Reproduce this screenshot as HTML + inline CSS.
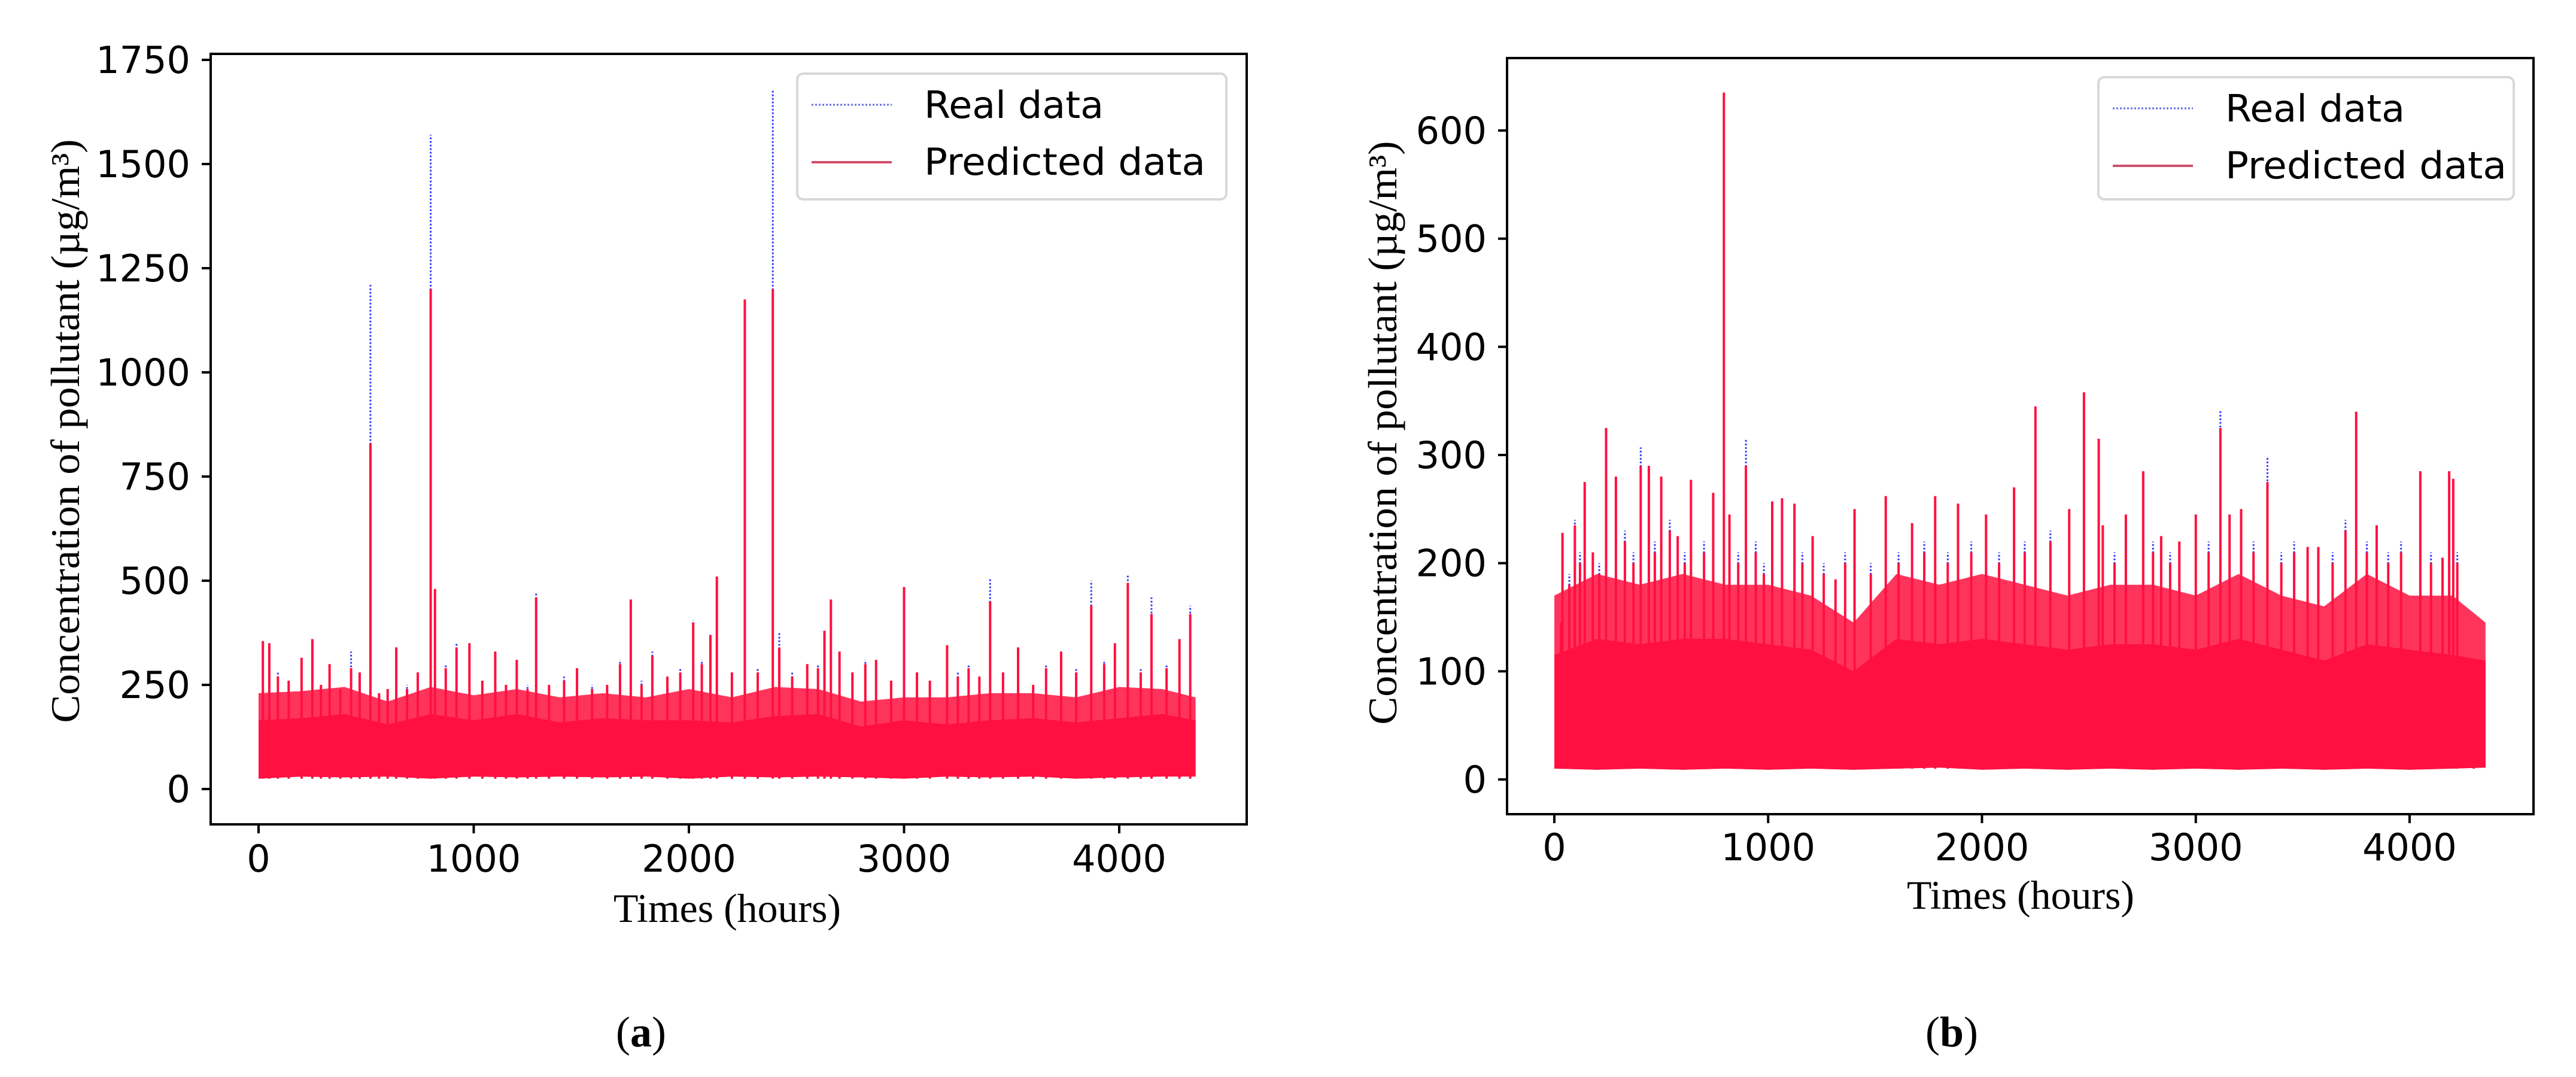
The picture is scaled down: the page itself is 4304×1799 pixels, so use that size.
<!DOCTYPE html>
<html><head><meta charset="utf-8"><style>
html,body{margin:0;padding:0;background:#fff}
svg{display:block}
</style></head><body>
<svg id="fig" width="4304" height="1799" viewBox="0 0 4304 1799" xmlns="http://www.w3.org/2000/svg">
  <rect x="0" y="0" width="4304" height="1799" fill="#fff"/>
  <g id="pa"></g>
  <g id="pb"></g>
  <text x="1071" y="1748" font-family="Liberation Serif, serif" font-size="72" text-anchor="middle">(<tspan font-weight="bold">a</tspan>)</text>
  <text x="3261" y="1748" font-family="Liberation Serif, serif" font-size="72" text-anchor="middle">(<tspan font-weight="bold">b</tspan>)</text>
</svg>
<script>
// ---------- Panel A data ----------
const aYTicks = [0, 250, 500, 750, 1000, 1250, 1500, 1750];
const aXTicks = [0, 1000, 2000, 3000, 4000];
const aPeakHours = [20,50,90,140,200,250,290,330,380,430,470,520,560,600,640,690,740,800,820,870,920,980,1040,1100,1150,1200,1250,1290,1350,1420,1480,1550,1620,1680,1730,1780,1830,1900,1960,2020,2060,2100,2130,2200,2260,2320,2390,2420,2480,2550,2600,2630,2660,2700,2760,2820,2870,2940,3000,3060,3120,3200,3250,3300,3350,3400,3460,3530,3600,3660,3730,3800,3870,3930,3980,4040,4100,4150,4220,4280,4330];
const aPeakPred = [355,350,270,260,315,360,250,300,240,290,280,830,230,240,340,240,280,1200,480,290,340,350,260,330,250,310,240,460,250,260,290,240,250,300,455,250,320,270,280,400,300,370,510,280,1175,280,1200,340,270,300,290,380,455,330,280,300,310,260,485,280,260,345,270,290,270,450,280,340,250,290,330,280,440,300,350,495,280,420,290,360,420];
const aPeakReal = [355,300,280,250,300,360,240,300,230,330,270,1210,220,240,330,250,280,1570,480,300,350,350,250,330,240,310,250,470,240,270,290,250,240,310,455,260,330,260,290,405,310,370,510,270,1175,290,1680,375,280,300,300,380,455,330,270,310,310,250,485,270,250,345,280,300,260,505,270,340,240,300,330,290,500,310,350,515,290,460,300,360,440];
const aBinHours = [0,200,400,600,800,1000,1200,1400,1600,1800,2000,2200,2400,2600,2800,3000,3200,3400,3600,3800,4000,4200,4355];
const aBandHi = [165,170,180,155,180,165,180,160,170,165,165,160,175,180,150,165,155,165,170,160,170,180,165];
const aBandMid = [230,235,245,210,245,225,240,220,230,220,240,220,245,240,210,220,220,230,230,220,245,240,220];
const aBandLo = [25,30,28,30,25,30,28,30,28,30,25,30,28,30,28,25,30,28,30,25,28,30,30];

// ---------- Panel B data ----------
const bYTicks = [0, 100, 200, 300, 400, 500, 600];
const bXTicks = [0, 1000, 2000, 3000, 4000];
const bPeakHours = [31,38,70,96,120,142,180,210,242,288,330,370,404,442,470,500,540,577,610,639,700,743,793,819,860,896,942,980,1019,1065,1123,1160,1208,1260,1315,1360,1404,1480,1550,1610,1673,1730,1781,1840,1888,1950,2019,2080,2150,2200,2250,2320,2408,2477,2546,2565,2620,2673,2754,2800,2838,2880,2923,3000,3060,3115,3158,3212,3270,3335,3400,3460,3523,3573,3640,3700,3750,3800,3846,3900,3960,4050,4100,4154,4185,4204,4223,4300];
const bPeakPred = [145,228,180,235,200,275,210,190,325,280,220,200,290,290,210,280,230,225,200,277,210,265,635,245,200,290,210,190,257,260,255,200,225,190,185,200,250,190,262,200,237,210,262,200,255,210,245,200,270,210,345,220,250,358,315,235,200,245,285,210,225,200,220,245,210,325,245,250,210,275,200,210,215,215,200,230,340,210,235,200,210,285,200,205,285,278,200,90];
const bPeakReal = [145,228,190,240,210,275,200,200,325,280,230,210,307,290,220,280,240,225,210,277,220,265,635,245,210,315,220,200,257,260,255,210,225,200,185,210,250,200,262,210,237,220,262,210,255,220,245,210,270,220,345,230,250,358,315,235,210,245,285,220,225,210,220,245,220,342,245,250,220,298,210,220,215,215,210,240,305,220,235,210,220,285,210,205,285,278,210,90];
const bBinHours = [0,200,400,600,800,1000,1200,1400,1600,1800,2000,2200,2400,2600,2800,3000,3200,3400,3600,3800,4000,4200,4355];
const bBandHi = [115,130,125,130,130,125,120,100,130,125,130,125,120,125,125,120,130,120,110,125,120,115,110];
const bBandMid = [170,190,180,190,180,180,170,145,190,180,190,180,170,180,180,170,190,170,160,190,170,170,145];
const bBandLo = [10,9,10,9,10,9,10,9,10,11,9,10,9,10,9,10,9,10,9,10,9,10,11];

const NS = 'http://www.w3.org/2000/svg';
const RED = '#ff1040';
const BLUE = '#3a3aff';
function mk(parent, tag, attrs) {
  const e = document.createElementNS(NS, tag);
  for (const k in attrs) e.setAttribute(k, attrs[k]);
  parent.appendChild(e);
  return e;
}

function drawPanel(cfg) {
  const g = document.getElementById(cfg.id);
  const xs = h => cfg.x0 + h * cfg.kx;
  const ys = v => cfg.y0 - v * cfg.ky;

  const clip = mk(g, 'clipPath', {id: cfg.id + '-clip'});
  mk(clip, 'rect', {x: cfg.L, y: cfg.T, width: cfg.R - cfg.L, height: cfg.B - cfg.T});
  const plot = mk(g, 'g', {'clip-path': 'url(#' + cfg.id + '-clip)'});
  
  

  let up = '', dn = '';
  for (let i = 0; i < cfg.binH.length; i++) up += xs(cfg.binH[i]) + ',' + ys(cfg.mid[i]) + ' ';
  for (let i = cfg.binH.length - 1; i >= 0; i--) dn += xs(cfg.binH[i]) + ',' + ys(cfg.lo[i]) + ' ';
  const outer = mk(plot, 'polygon', {points: up + dn, fill: RED, opacity: 0.85});
  
  
  let core = '';
  for (let i = 0; i < cfg.binH.length; i++) core += xs(cfg.binH[i]) + ',' + ys(cfg.hi[i]) + ' ';
  const corePoly = mk(plot, 'polygon', {points: core + dn, fill: RED});
  
  

  for (let i = 0; i < cfg.pH.length; i++) {
    const l = mk(plot, 'line', {x1: xs(cfg.pH[i]), x2: xs(cfg.pH[i]), y1: ys(cfg.lo[0]), y2: ys(cfg.real[i]), stroke: BLUE, 'stroke-width': 3, 'stroke-dasharray': '3,3'});
    
    
  }
  for (let i = 0; i < cfg.pH.length; i++) {
    const l = mk(plot, 'line', {x1: xs(cfg.pH[i]), x2: xs(cfg.pH[i]), y1: ys(cfg.lo[0]), y2: ys(cfg.pred[i]), stroke: RED, 'stroke-width': 4});
    
    
  }

  const fr = mk(g, 'rect', {x: cfg.L, y: cfg.T, width: cfg.R - cfg.L, height: cfg.B - cfg.T, fill: 'none', stroke: '#000', 'stroke-width': 4});
  
  

  cfg.yt.forEach(v => {
    const y = ys(v);
    const t = mk(g, 'line', {x1: cfg.L - 15, x2: cfg.L, y1: y, y2: y, stroke: '#000', 'stroke-width': 4});
    
    
    const tx = mk(g, 'text', {x: cfg.L - 34, y: y + 22, 'font-family': 'DejaVu Sans, Liberation Sans, sans-serif', 'font-size': 62, 'text-anchor': 'end'});
    tx.textContent = v;
    
    
  });
  cfg.xt.forEach(v => {
    const x = xs(v);
    const t = mk(g, 'line', {x1: x, x2: x, y1: cfg.B, y2: cfg.B + 15, stroke: '#000', 'stroke-width': 4});
    
    
    const tx = mk(g, 'text', {x: x, y: cfg.xlabY, 'font-family': 'DejaVu Sans, Liberation Sans, sans-serif', 'font-size': 62, 'text-anchor': 'middle'});
    tx.textContent = v;
    
    
  });

  const xt = mk(g, 'text', {x: cfg.xTitleX, y: cfg.xTitleY, 'font-family': 'Liberation Serif, serif', 'font-size': 68, 'text-anchor': 'middle', textLength: 380, lengthAdjust: 'spacingAndGlyphs'});
  xt.textContent = 'Times (hours)';
  
  
  const yt = mk(g, 'text', {x: 0, y: 0, 'font-family': 'Liberation Serif, serif', 'font-size': 68, 'text-anchor': 'middle', textLength: 975, lengthAdjust: 'spacingAndGlyphs', transform: 'translate(' + cfg.yTitleX + ',' + cfg.yTitleY + ') rotate(-90)'});
  yt.textContent = 'Concentration of pollutant (µg/m³)';
  
  

  const lg = mk(g, 'g', {});
  
  
  const lb = cfg.leg;
  mk(lg, 'rect', {x: lb.x, y: lb.y, width: lb.w, height: lb.h, rx: 10, fill: '#fff', stroke: '#d8d8d8', 'stroke-width': 4});
  const l1 = mk(lg, 'line', {x1: lb.x + 24, x2: lb.x + 158, y1: lb.y + 52, y2: lb.y + 52, stroke: '#6a6ae0', 'stroke-width': 3, 'stroke-dasharray': '3,3'});
  
  
  const t1 = mk(lg, 'text', {x: lb.x + 212, y: lb.y + 74, 'font-family': 'DejaVu Sans, Liberation Sans, sans-serif', 'font-size': 62, textLength: 300, lengthAdjust: 'spacingAndGlyphs'});
  t1.textContent = 'Real data';
  
  
  const l2 = mk(lg, 'line', {x1: lb.x + 24, x2: lb.x + 158, y1: lb.y + 148, y2: lb.y + 148, stroke: '#d0506a', 'stroke-width': 4});
  
  
  const t2 = mk(lg, 'text', {x: lb.x + 212, y: lb.y + 169, 'font-family': 'DejaVu Sans, Liberation Sans, sans-serif', 'font-size': 62, textLength: 470, lengthAdjust: 'spacingAndGlyphs'});
  t2.textContent = 'Predicted data';
  
  
}

drawPanel({
  id: 'pa', L: 352, R: 2083, T: 90, B: 1377,
  x0: 432, kx: 0.3595, y0: 1318, ky: (1318 - 100) / 1750,
  yt: aYTicks, xt: aXTicks, xlabY: 1456,
  binH: aBinHours, hi: aBandHi, mid: aBandMid, lo: aBandLo,
  pH: aPeakHours, pred: aPeakPred, real: aPeakReal,
  xTitleX: 1215, xTitleY: 1540, yTitleX: 132, yTitleY: 720,
  leg: {x: 1332, y: 123, w: 717, h: 210}
});
drawPanel({
  id: 'pb', L: 2518, R: 4233, T: 97, B: 1360,
  x0: 2597, kx: (4026 - 2597) / 4000, y0: 1302, ky: (1302 - 218) / 600,
  yt: bYTicks, xt: bXTicks, xlabY: 1437,
  binH: bBinHours, hi: bBandHi, mid: bBandMid, lo: bBandLo,
  pH: bPeakHours, pred: bPeakPred, real: bPeakReal,
  xTitleX: 3376, xTitleY: 1518, yTitleX: 2333, yTitleY: 723,
  leg: {x: 3506, y: 129, w: 694, h: 204}
});
</script>
</body></html>
